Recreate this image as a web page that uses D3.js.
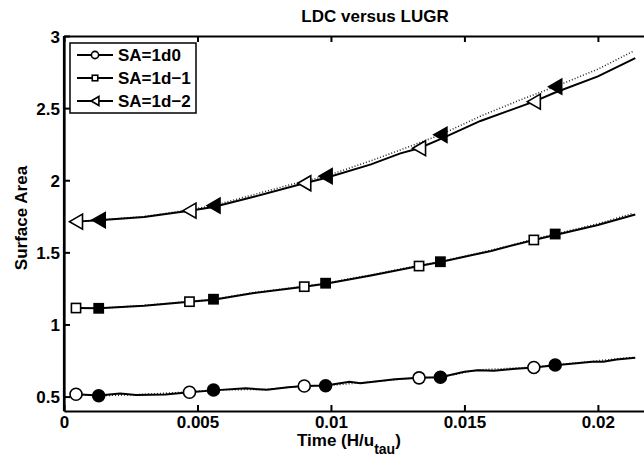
<!DOCTYPE html>
<html>
<head>
<meta charset="utf-8">
<script src="https://cdn.jsdelivr.net/npm/d3@7"></script>
<style>
  body { margin: 0; background: #fff; }
  text { font-family: "Liberation Sans", Arial, sans-serif; font-weight: bold; fill: #000; }
</style>
</head>
<body>
<div id="chart"></div>
<script>
// ---- data ----
var xTicks = [0, 0.005, 0.01, 0.015, 0.02];
var xTickLabels = ["0", "0.005", "0.01", "0.015", "0.02"];
var yTicks = [0.5, 1, 1.5, 2, 2.5, 3];
var yTickLabels = ["0.5", "1", "1.5", "2", "2.5", "3"];
var legendNames = ["SA=1d0", "SA=1d\u22121", "SA=1d\u22122"];

// marker positions (time)
var tOpen   = [0.00045, 0.0047, 0.0090, 0.0133, 0.0176];
var tFilled = [0.0013, 0.0056, 0.0098, 0.0141, 0.0184];

// SA=1d0, solid
var tCirc = [0.00045, 0.0013, 0.0021, 0.0027, 0.0038, 0.0047, 0.0056, 0.0068, 0.0076, 0.0084, 0.0090, 0.0098, 0.0107, 0.0111, 0.0124, 0.0133, 0.0141, 0.0150, 0.0155, 0.0161, 0.0168, 0.0176, 0.0184, 0.0192, 0.0198, 0.0202, 0.0207, 0.0214];
var vCirc = [0.516, 0.508, 0.521, 0.511, 0.514, 0.530, 0.543, 0.557, 0.547, 0.564, 0.573, 0.577, 0.603, 0.593, 0.620, 0.630, 0.634, 0.672, 0.683, 0.679, 0.691, 0.702, 0.717, 0.731, 0.742, 0.741, 0.757, 0.770];
// SA=1d0, dotted
var tCircD = [0.00045, 0.0013, 0.0027, 0.0047, 0.0056, 0.0076, 0.0090, 0.0098, 0.0111, 0.0133, 0.0141, 0.0155, 0.0176, 0.0184, 0.0198, 0.0213];
var vCircD = [0.516, 0.506, 0.513, 0.532, 0.546, 0.550, 0.574, 0.575, 0.596, 0.631, 0.634, 0.685, 0.704, 0.719, 0.745, 0.772];

// SA=1d-1, solid
var tSq = [0.00045, 0.0013, 0.0030, 0.0047, 0.0056, 0.0070, 0.0090, 0.0098, 0.0115, 0.0133, 0.0141, 0.0160, 0.0176, 0.0184, 0.0200, 0.0214];
var vSq = [1.114, 1.112, 1.130, 1.158, 1.172, 1.215, 1.262, 1.283, 1.340, 1.405, 1.433, 1.510, 1.586, 1.620, 1.690, 1.762];
// SA=1d-1, dotted
var tSqD = [0.00045, 0.0013, 0.0030, 0.0047, 0.0056, 0.0070, 0.0090, 0.0098, 0.0115, 0.0133, 0.0141, 0.0160, 0.0176, 0.0184, 0.0200, 0.0213];
var vSqD = [1.114, 1.112, 1.132, 1.160, 1.175, 1.218, 1.266, 1.286, 1.344, 1.410, 1.435, 1.515, 1.592, 1.627, 1.698, 1.770];

// SA=1d-2, solid
var tTri = [0.00045, 0.0013, 0.0030, 0.0047, 0.0056, 0.0070, 0.0090, 0.0098, 0.0115, 0.0126, 0.0133, 0.0141, 0.0156, 0.0176, 0.0184, 0.0200, 0.0214];
var vTri = [1.713, 1.722, 1.745, 1.789, 1.815, 1.880, 1.979, 2.015, 2.110, 2.186, 2.222, 2.285, 2.411, 2.545, 2.608, 2.720, 2.846];
// SA=1d-2, dotted
var tTriD = [0.00045, 0.0013, 0.0030, 0.0047, 0.0056, 0.0070, 0.0085, 0.0098, 0.0115, 0.0126, 0.0141, 0.0156, 0.0170, 0.0184, 0.0200, 0.0213];
var vTriD = [1.713, 1.724, 1.748, 1.795, 1.824, 1.895, 1.970, 2.028, 2.135, 2.210, 2.315, 2.444, 2.550, 2.649, 2.770, 2.892];

// ---- layout ----
var W = 644, H = 462;
var svg = d3.select("#chart").append("svg")
  .attr("width", W).attr("height", H);

var x = d3.scaleLinear().domain([0, 0.0233]).range([64, 686]);
var y = d3.scaleLinear().domain([0.4, 3]).range([411, 36]);

function pts(ts, vs){
  var out = [];
  for (let i = 0; i < ts.length; i++) out.push([x(ts[i]), y(vs[i])]);
  return out;
}
// value of a series at time t (for placing markers on the curve)
function at(ts, vs, t){
  for (let i = 0; i < ts.length - 1; i++){
    if (t >= ts[i] && t <= ts[i+1]){
      var f = (t - ts[i]) / (ts[i+1] - ts[i]);
      return vs[i] + f * (vs[i+1] - vs[i]);
    }
  }
  return vs[vs.length - 1];
}

// axes
var xAxis = svg.append("g")
  .attr("transform", "translate(0,411)")
  .call(d3.axisBottom(x).tickValues(xTicks).tickSize(-6).tickSizeOuter(0)
    .tickFormat(function(d, i){ return xTickLabels[i]; }));
var xTop = svg.append("g")
  .attr("transform", "translate(0,36)")
  .call(d3.axisTop(x).tickValues(xTicks).tickSize(-6).tickSizeOuter(0).tickFormat(""));
var yAxis = svg.append("g")
  .attr("transform", "translate(64,0)")
  .call(d3.axisLeft(y).tickValues(yTicks).tickSize(-6).tickSizeOuter(0)
    .tickFormat(function(d, i){ return yTickLabels[i]; }));

svg.selectAll(".domain").attr("stroke", "#000").attr("stroke-width", 2.2);
svg.selectAll(".tick line").attr("stroke", "#000").attr("stroke-width", 2);
xAxis.selectAll("text").attr("dy", null).attr("y", 17).style("font-size", "17px")
  .attr("font-family", null);
yAxis.selectAll("text").attr("x", -4).attr("dy", "0.36em").style("font-size", "17px")
  .attr("font-family", null);
// left axis line covers whole height
svg.append("line").attr("x1", 64).attr("x2", 64).attr("y1", 36).attr("y2", 411)
  .attr("stroke", "#000").attr("stroke-width", 2.2);

// lines
var line = d3.line();
var series = [
  {t: tCirc, v: vCirc, td: tCircD, vd: vCircD, shape: "circle"},
  {t: tSq,   v: vSq,   td: tSqD,   vd: vSqD,   shape: "square"},
  {t: tTri,  v: vTri,  td: tTriD,  vd: vTriD,  shape: "triangle"}
];

function marker(g, shape, cx, cy, filled, s){
  var fill = filled ? "#000" : "#fff";
  if (shape === "circle"){
    g.append("circle").attr("cx", cx).attr("cy", cy).attr("r", 6 * s)
      .attr("fill", fill).attr("stroke", "#000").attr("stroke-width", 1.6);
  } else if (shape === "square"){
    var h = 4.6 * s;
    g.append("rect").attr("x", cx - h).attr("y", cy - h).attr("width", 2*h).attr("height", 2*h)
      .attr("fill", fill).attr("stroke", "#000").attr("stroke-width", 1.6);
  } else {
    var w = 6.5 * s, hh = 7.5 * s;
    g.append("path")
      .attr("d", "M" + (cx - w) + "," + cy + "L" + (cx + w) + "," + (cy - hh) + "L" + (cx + w) + "," + (cy + hh) + "Z")
      .attr("fill", fill).attr("stroke", "#000").attr("stroke-width", 1.6);
  }
}

series.forEach(function(s){
  svg.append("path")
    .attr("d", line(pts(s.td, s.vd)))
    .attr("fill", "none").attr("stroke", "#222").attr("stroke-width", 1.5)
    .attr("stroke-dasharray", "1,2");
  svg.append("path")
    .attr("d", line(pts(s.t, s.v)))
    .attr("fill", "none").attr("stroke", "#000").attr("stroke-width", 2);
  var g = svg.append("g");
  tOpen.forEach(function(t){ marker(g, s.shape, x(t), y(at(s.t, s.v, t)), false, 1); });
  tFilled.forEach(function(t){ marker(g, s.shape, x(t), y(at(s.td, s.vd, t)), true, 1); });
});

// title and labels
svg.append("text").attr("x", 375).attr("y", 22).attr("text-anchor", "middle")
  .style("font-size", "17px").text("LDC versus LUGR");
svg.append("text").attr("transform", "translate(27,218) rotate(-90)")
  .attr("text-anchor", "middle").style("font-size", "17px").text("Surface Area");
var xl = svg.append("text").attr("x", 297).attr("y", 446).style("font-size", "17px");
xl.append("tspan").text("Time (H/u");
xl.append("tspan").attr("dy", 8).style("font-size", "14px").text("tau");
xl.append("tspan").attr("dy", -8).text(")");

// legend
var lg = svg.append("g");
lg.append("rect").attr("x", 70).attr("y", 43).attr("width", 126).attr("height", 70)
  .attr("fill", "#fff").attr("stroke", "#000").attr("stroke-width", 1.5);
var legY = [55, 78, 101];
legendNames.forEach(function(name, i){
  lg.append("line").attr("x1", 77).attr("x2", 113).attr("y1", legY[i]).attr("y2", legY[i])
    .attr("stroke", "#000").attr("stroke-width", 2);
  marker(lg, series[i].shape, 95, legY[i], false, 0.6);
  lg.append("text").attr("x", 118).attr("y", legY[i] + 6).style("font-size", "17px").text(name);
});
</script>
</body>
</html>
